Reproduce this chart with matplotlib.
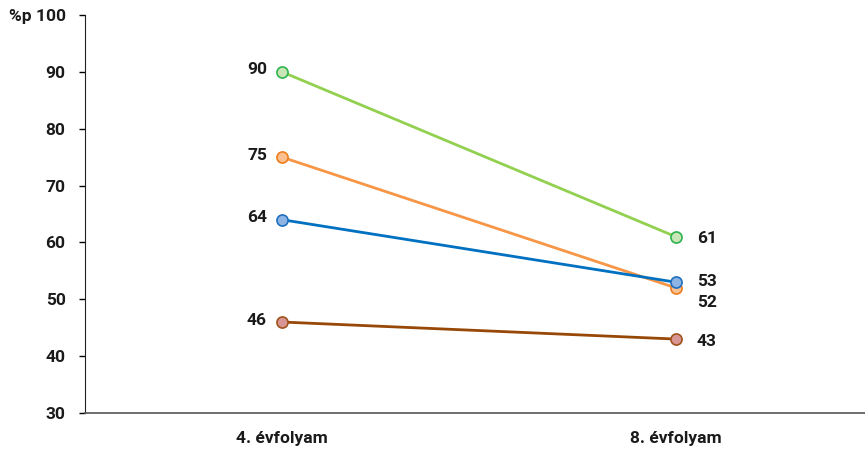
import matplotlib.pyplot as plt

plt.rcParams['font.family'] = ['Roboto', 'DejaVu Sans']

grades = ["4. évfolyam", "8. évfolyam"]
green = [90, 61]
orange = [75, 52]
blue = [64, 53]
brown = [46, 43]

yticks = [30, 40, 50, 60, 70, 80, 90, 100]
ytick_labels = ["30", "40", "50", "60", "70", "80", "90", "%p 100"]

# line colour, marker face, marker edge, vertical label offset at the right end
series = [
    (green, "#92d050", "#c9e7b6", "#2eb350", -2),
    (orange, "#f79646", "#fbc08f", "#ee7d1e", -15),
    (blue, "#0070c0", "#8db4e2", "#1f6fbf", 1),
    (brown, "#974806", "#d99594", "#a0521c", -2),
]

fs = 12.5
fw = "bold"

fig = plt.figure(figsize=(8.65, 4.51), dpi=100)
ax = fig.add_axes([0.0983, 0.0843, 0.9017, 0.8824])

x = [0, 1]
for vals, lc, fc, ec, off in series:
    ax.plot(x, vals, color=lc, linewidth=2, zorder=2)
    ax.plot(x, vals, linestyle="none", marker="o", markersize=8,
            markerfacecolor=fc, markeredgecolor=ec, markeredgewidth=1.2, zorder=3)
    ax.annotate(str(vals[0]), (0, vals[0]), xytext=(-15, 2), textcoords="offset pixels",
                ha="right", va="center", fontsize=fs, fontweight=fw, color="#1a1a1a")
    ax.annotate(str(vals[1]), (1, vals[1]), xytext=(21, off), textcoords="offset pixels",
                ha="left", va="center", fontsize=fs, fontweight=fw, color="#1a1a1a")

ax.set_xlim(-0.5, 1.48)
ax.set_ylim(30, 100)
ax.set_xticks(x)
ax.set_xticklabels(grades, fontsize=fs, fontweight=fw, color="#1a1a1a")
ax.set_yticks(yticks)
ax.set_yticklabels(ytick_labels, fontsize=fs, fontweight=fw, color="#1a1a1a")
ax.tick_params(axis="x", length=0, pad=13)
ax.tick_params(axis="y", length=4, width=1, direction="out", pad=10)

ax.spines["top"].set_visible(False)
ax.spines["right"].set_visible(False)
ax.spines["left"].set_color("#222222")
ax.spines["bottom"].set_color("#555555")
ax.spines["bottom"].set_linewidth(1.2)

fig.savefig("out.png", dpi=100)
